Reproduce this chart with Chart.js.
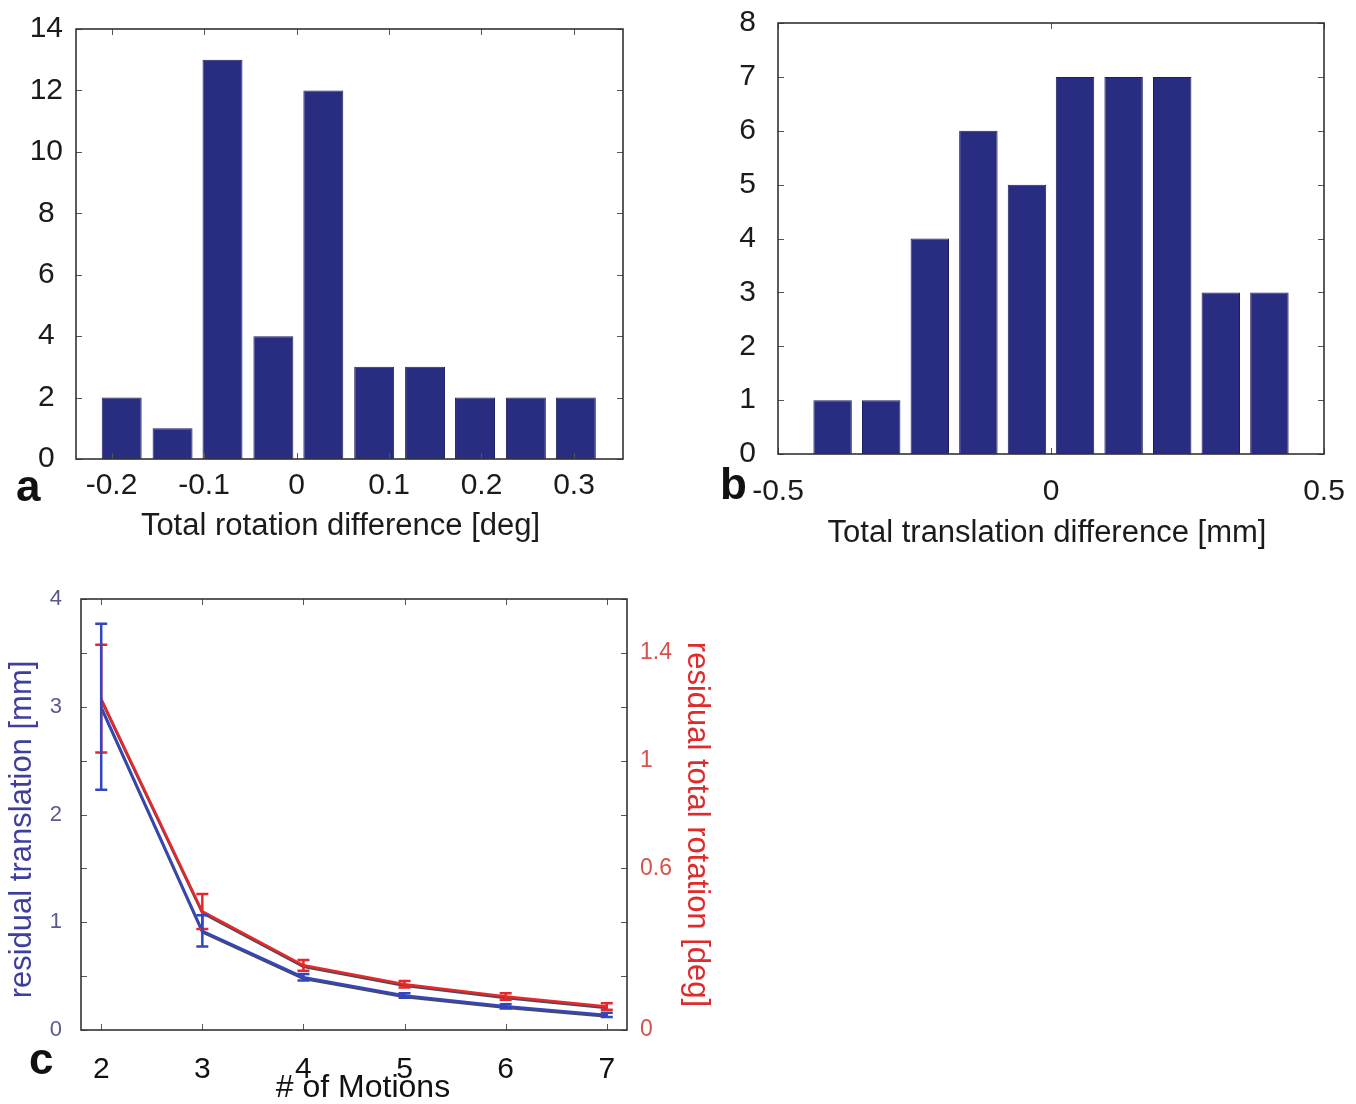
<!DOCTYPE html>
<html>
<head>
<meta charset="utf-8">
<script src="https://cdn.jsdelivr.net/npm/chart.js@4/dist/chart.umd.min.js"></script>
<style>
  html, body { margin: 0; padding: 0; background: #fff; width: 1356px; height: 1104px; overflow: hidden; }
  .panel { position: absolute; }
  .tag { position: absolute; font: bold 44px 'Liberation Sans', Arial, sans-serif; color: #111; line-height: 1; }
</style>
</head>
<body>
<div class="panel" style="left:0;top:0;width:640px;height:560px"><canvas id="chartA"></canvas></div>
<div class="panel" style="left:700px;top:0;width:656px;height:560px"><canvas id="chartB"></canvas></div>
<div class="panel" style="left:0;top:560px;width:720px;height:544px"><canvas id="chartC"></canvas></div>
<div class="tag" style="left:16px;top:464px">a</div>
<div class="tag" style="left:720px;top:462px">b</div>
<div class="tag" style="left:29px;top:1037px">c</div>

<script>
// ---- panel a: histogram of total rotation difference ----
const rotationBinCenters = [-0.189, -0.134, -0.080, -0.025, 0.029, 0.084, 0.139, 0.193, 0.248, 0.302];
const rotationCounts     = [2, 1, 13, 4, 12, 3, 3, 2, 2, 2];
const rotationXTicks     = [-0.2, -0.1, 0, 0.1, 0.2, 0.3];
const rotationYTicks     = [0, 2, 4, 6, 8, 10, 12, 14];

// ---- panel b: histogram of total translation difference ----
const translationBinCenters = [-0.400, -0.311, -0.222, -0.133, -0.044, 0.044, 0.133, 0.222, 0.311, 0.400];
const translationCounts     = [1, 1, 4, 6, 5, 7, 7, 7, 3, 3];
const translationXTicks     = [-0.5, 0, 0.5];
const translationYTicks     = [0, 1, 2, 3, 4, 5, 6, 7, 8];

// ---- panel c: residual error versus number of motions ----
const motions           = [2, 3, 4, 5, 6, 7];
const residualTransMean = [3.00, 0.92, 0.49, 0.32, 0.22, 0.14];
const residualTransErr  = [0.77, 0.145, 0.03, 0.02, 0.02, 0.02];
const residualRotMean   = [1.23, 0.44, 0.24, 0.17, 0.124, 0.087];
const residualRotErr    = [0.20, 0.065, 0.02, 0.012, 0.012, 0.012];
const transAxisTicks    = [0, 0.5, 1, 1.5, 2, 2.5, 3, 3.5, 4];
const transAxisLabels   = ['0', '1', '2', '3', '4'];
const rotAxisTicks      = [0, 0.2, 0.4, 0.6, 0.8, 1, 1.2, 1.4, 1.6];
const rotAxisLabels     = ['0', '0.6', '1', '1.4'];

const FONT = "'Liberation Sans', Arial, Helvetica, sans-serif";
Chart.defaults.font.family = FONT;
Chart.defaults.color = '#1b1b1b';
Chart.defaults.animation = false;

const BAR_COLOR = '#292d82';
const BLUE = '#3346bd';
const RED = '#e8272b';

// Boxed axes with inward tick marks, drawn from each scale's ticks.
const boxTicks = {
  id: 'boxTicks',
  afterDatasetsDraw(chart, args, opts) {
    const { ctx, chartArea: a } = chart;
    const len = opts.length || 6;
    ctx.save();
    ctx.lineWidth = 1;
    ctx.strokeStyle = opts.tickColor || '#555';
    ctx.beginPath();
    Object.values(chart.scales).forEach(s => {
      s.ticks.forEach((t, i) => {
        const p = Math.round(s.getPixelForTick(i)) + 0.5;
        if (s.isHorizontal()) {
          ctx.moveTo(p, a.bottom); ctx.lineTo(p, a.bottom - len);
          ctx.moveTo(p, a.top); ctx.lineTo(p, a.top + len);
        } else if (s.position === 'left') {
          ctx.moveTo(a.left, p); ctx.lineTo(a.left + len, p);
          if (opts.mirrorY) { ctx.moveTo(a.right, p); ctx.lineTo(a.right - len, p); }
        } else {
          ctx.moveTo(a.right, p); ctx.lineTo(a.right - len, p);
        }
      });
    });
    ctx.stroke();
    ctx.lineWidth = 1.6;
    ctx.strokeStyle = opts.frameColor || '#333';
    ctx.strokeRect(a.left, a.top, a.right - a.left, a.bottom - a.top);
    ctx.restore();
  }
};

// Axis captions placed relative to the plot area centre.
const captions = {
  id: 'captions',
  afterDraw(chart, args, opts) {
    const { ctx, chartArea: a } = chart;
    const cx = (a.left + a.right) / 2, cy = (a.top + a.bottom) / 2;
    (opts.items || []).forEach(it => {
      ctx.save();
      ctx.font = `${it.size}px ${FONT}`;
      ctx.fillStyle = it.color;
      ctx.textAlign = 'center';
      ctx.textBaseline = 'middle';
      if (it.side === 'bottom') {
        ctx.translate(cx + (it.shift || 0), it.at);
      } else {
        ctx.translate(it.at, cy + (it.shift || 0));
        ctx.rotate(it.side === 'left' ? -Math.PI / 2 : Math.PI / 2);
      }
      ctx.fillText(it.text, 0, 0);
      ctx.restore();
    });
  }
};

// Error bars with caps, positioned through each dataset's own y scale.
const errorBars = {
  id: 'errorBars',
  afterDatasetsDraw(chart, args, opts) {
    const { ctx } = chart;
    chart.data.datasets.forEach((ds, di) => {
      const errs = opts.errors[di];
      if (!errs) return;
      const meta = chart.getDatasetMeta(di);
      const ys = chart.scales[ds.yAxisID];
      ctx.save();
      ctx.strokeStyle = ds.borderColor;
      ctx.lineWidth = 2.5;
      meta.data.forEach((pt, j) => {
        const v = ds.data[j].y;
        const top = ys.getPixelForValue(v + errs[j]);
        const bot = ys.getPixelForValue(v - errs[j]);
        const x = pt.x;
        const cap = 6;
        ctx.beginPath();
        ctx.moveTo(x, top); ctx.lineTo(x, bot);
        ctx.moveTo(x - cap, top); ctx.lineTo(x + cap, top);
        ctx.moveTo(x - cap, bot); ctx.lineTo(x + cap, bot);
        ctx.stroke();
      });
      ctx.restore();
    });
  }
};

// Thin dark edge under each curve.
const lineShadow = {
  id: 'lineShadow',
  beforeDatasetDraw(chart) {
    const ctx = chart.ctx;
    ctx.save();
    ctx.shadowColor = 'rgba(15,15,30,0.75)';
    ctx.shadowOffsetY = 1.5;
    ctx.shadowBlur = 0;
  },
  afterDatasetDraw(chart) {
    chart.ctx.restore();
  }
};

function fixedTicks(values) {
  return axis => { axis.ticks = values.map(v => ({ value: v })); };
}

// Fix a scale's box size and drop the extra room Chart.js reserves for edge labels.
function fixSize(dim, size) {
  return s => {
    s[dim] = size;
    s.paddingTop = 0; s.paddingBottom = 0; s.paddingLeft = 0; s.paddingRight = 0;
  };
}

const noGrid = { display: false, drawTicks: false };

function histogram(id, centers, counts, xOpts, yOpts, layoutPad) {
  return new Chart(document.getElementById(id), {
    type: 'bar',
    data: {
      datasets: [{
        data: centers.map((c, i) => ({ x: c, y: counts[i] })),
        backgroundColor: BAR_COLOR,
        borderColor: '#1c1f5e',
        borderWidth: 1,
        categoryPercentage: 1,
        barPercentage: 0.8
      }]
    },
    options: {
      responsive: true,
      maintainAspectRatio: false,
      layout: { padding: layoutPad },
      plugins: {
        legend: { display: false },
        tooltip: { enabled: false },
        boxTicks: { mirrorY: true, length: 6 },
        captions: { items: [{ text: xOpts.title, side: 'bottom', at: xOpts.titleY, shift: xOpts.titleShift, size: 31, color: '#1b1b1b' }] }
      },
      scales: {
        x: {
          type: 'linear',
          offset: false,
          min: xOpts.min, max: xOpts.max,
          afterBuildTicks: fixedTicks(xOpts.ticks),
          afterFit: fixSize('height', xOpts.height),
          grid: noGrid,
          border: { display: false },
          ticks: {
            font: { size: 30 }, color: '#1b1b1b', padding: xOpts.pad,
            maxRotation: 0, autoSkip: false,
            callback: v => String(v)
          }
        },
        y: {
          type: 'linear',
          min: yOpts.min, max: yOpts.max,
          afterBuildTicks: fixedTicks(yOpts.ticks),
          afterFit: fixSize('width', yOpts.width),
          grid: noGrid,
          border: { display: false },
          ticks: {
            font: { size: 30 }, color: '#1b1b1b', padding: yOpts.pad,
            crossAlign: 'center', autoSkip: false
          }
        }
      }
    },
    plugins: [boxTicks, captions]
  });
}

histogram('chartA', rotationBinCenters, rotationCounts,
  { min: -0.2384, max: 0.353, ticks: rotationXTicks, height: 101, pad: 9,
    title: 'Total rotation difference [deg]', titleY: 526, titleShift: -9 },
  { min: 0, max: 14, ticks: rotationYTicks, width: 76, pad: 13 },
  { top: 29, right: 17, left: 0, bottom: 0 });

histogram('chartB', translationBinCenters, translationCounts,
  { min: -0.5, max: 0.5, ticks: translationXTicks, height: 106, pad: 20,
    title: 'Total translation difference [mm]', titleY: 533, titleShift: -4 },
  { min: 0, max: 8, ticks: translationYTicks, width: 78, pad: 22 },
  { top: 23, right: 32, left: 0, bottom: 0 });

new Chart(document.getElementById('chartC'), {
  type: 'line',
  data: {
    datasets: [
      {
        label: 'residual total rotation [deg]',
        data: motions.map((m, i) => ({ x: m, y: residualRotMean[i] })),
        yAxisID: 'yRot',
        borderColor: RED,
        borderWidth: 2.5,
        pointRadius: 0,
        tension: 0,
        fill: false
      },
      {
        label: 'residual translation [mm]',
        data: motions.map((m, i) => ({ x: m, y: residualTransMean[i] })),
        yAxisID: 'yTrans',
        borderColor: BLUE,
        borderWidth: 2.5,
        pointRadius: 0,
        tension: 0,
        fill: false
      }
    ]
  },
  options: {
    responsive: true,
    maintainAspectRatio: false,
    layout: { padding: { top: 39, right: 0, left: 0, bottom: 0 } },
    plugins: {
      legend: { display: false },
      tooltip: { enabled: false },
      boxTicks: { mirrorY: false, length: 6 },
      errorBars: { errors: [residualRotErr, residualTransErr] },
      captions: {
        items: [
          { text: '# of Motions', side: 'bottom', at: 528, shift: 9, size: 32, color: '#111' },
          { text: 'residual translation [mm]', side: 'left', at: 22, shift: 15, size: 31, color: '#3e3e9c' },
          { text: 'residual total rotation [deg]', side: 'right', at: 697, shift: 10, size: 31, color: '#de2b2b' }
        ]
      }
    },
    scales: {
      x: {
        type: 'linear',
        min: 1.8, max: 7.2,
        afterBuildTicks: fixedTicks(motions),
        afterFit: fixSize('height', 74),
        grid: noGrid,
        border: { display: false },
        ticks: { font: { size: 30 }, color: '#111', padding: 22, maxRotation: 0, autoSkip: false }
      },
      yTrans: {
        type: 'linear',
        position: 'left',
        min: 0, max: 4,
        afterBuildTicks: fixedTicks(transAxisTicks),
        afterFit: fixSize('width', 81),
        grid: noGrid,
        border: { display: false },
        ticks: {
          font: { size: 22 }, color: '#5a5a8e', padding: 19, autoSkip: false,
          callback: v => (transAxisLabels.includes(String(v)) ? String(v) : '')
        }
      },
      yRot: {
        type: 'linear',
        position: 'right',
        min: 0, max: 1.6,
        afterBuildTicks: fixedTicks(rotAxisTicks),
        afterFit: fixSize('width', 93),
        grid: noGrid,
        border: { display: false },
        ticks: {
          font: { size: 23 }, color: '#d8504c', padding: 13, autoSkip: false,
          callback: v => {
            const t = String(Math.round(v * 10) / 10);
            return rotAxisLabels.includes(t) ? t : '';
          }
        }
      }
    }
  },
  plugins: [lineShadow, boxTicks, errorBars, captions]
});
</script>
</body>
</html>
